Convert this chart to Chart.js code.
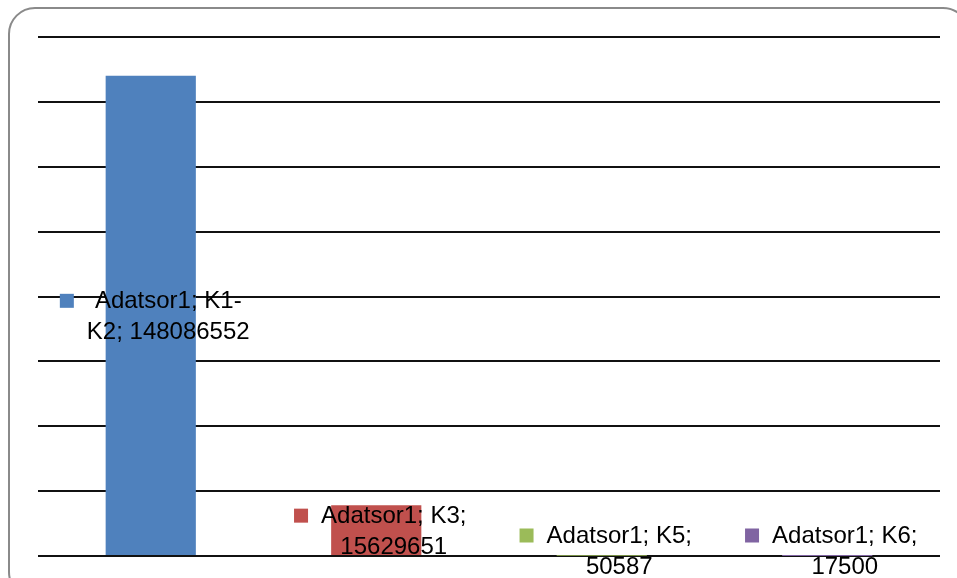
<!DOCTYPE html>
<html>
<head>
<meta charset="utf-8">
<script src="https://cdn.jsdelivr.net/npm/chart.js@4"></script>
<style>
  html, body { margin: 0; padding: 0; background: #fff; }
  #wrap { width: 957px; height: 578px; position: relative; }
</style>
</head>
<body>
<div id="wrap"><canvas id="barChart" width="957" height="578"></canvas></div>
<script>
// Chart data
const seriesName = 'Adatsor1';
const categories = ['K1-K2', 'K3', 'K5', 'K6'];
const values = [148086552, 15629651, 50587, 17500];
const barColors = ['#4F81BD', '#C0504D', '#9BBB59', '#8064A2'];
const yTicks = [0, 20000000, 40000000, 60000000, 80000000, 100000000, 120000000, 140000000, 160000000];

const labelFont = '24px "Liberation Sans", Arial, sans-serif';

// Split a label into lines, breaking after spaces and hyphens
function wrapLabel(ctx, text, maxWidth) {
    const parts = text.split(/(?<=[\s-])/);
    const lines = [];
    let current = '';
    parts.forEach(part => {
        const test = current + part;
        if (current && ctx.measureText(test.trim()).width > maxWidth) {
            lines.push(current.trim());
            current = part;
        } else {
            current = test;
        }
    });
    if (current.trim()) lines.push(current.trim());
    return lines;
}

// Rounded frame around the chart
const framePlugin = {
    id: 'frame',
    beforeDraw(chart) {
        const ctx = chart.ctx;
        ctx.save();
        ctx.strokeStyle = '#8a8a8a';
        ctx.lineWidth = 2;
        ctx.beginPath();
        ctx.roundRect(9, 8, 960, 590, 26);
        ctx.stroke();
        ctx.restore();
    }
};

// Excel-like data labels with legend key
const dataLabelPlugin = {
    id: 'dataLabels',
    afterDatasetsDraw(chart) {
        const ctx = chart.ctx;
        const meta = chart.getDatasetMeta(0);
        const lineHeight = 31;
        const keySize = 14;
        const keyGap = 13;
        ctx.save();
        ctx.font = labelFont;
        ctx.textBaseline = 'middle';
        ctx.textAlign = 'center';
        meta.data.forEach((bar, i) => {
            const text = seriesName + '; ' + categories[i] + '; ' + values[i];
            const lines = wrapLabel(ctx, text, 178);
            const textWidth = Math.max(...lines.map(l => ctx.measureText(l).width));
            const total = keySize + keyGap + textWidth;
            let cy = (bar.y + bar.base) / 2 + 2;
            const blockH = lines.length * lineHeight;
            if (cy + blockH / 2 > chart.height + 5) cy = chart.height + 5 - blockH / 2;
            const left = bar.x + 4 - total / 2;
            const firstY = cy - blockH / 2 + lineHeight / 2;
            ctx.fillStyle = barColors[i];
            ctx.fillRect(left, firstY - keySize / 2 - 1, keySize, keySize);
            ctx.fillStyle = '#000';
            const textCx = left + keySize + keyGap + textWidth / 2;
            lines.forEach((line, j) => {
                ctx.fillText(line, textCx, firstY + j * lineHeight);
            });
        });
        ctx.restore();
    }
};

const ctx = document.getElementById('barChart').getContext('2d');
new Chart(ctx, {
    type: 'bar',
    data: {
        labels: categories,
        datasets: [{
            label: seriesName,
            data: values,
            backgroundColor: barColors,
            borderWidth: 0,
            barPercentage: 0.4,
            categoryPercentage: 1.0
        }]
    },
    options: {
        responsive: false,
        animation: false,
        layout: { padding: { left: 38, right: 17, top: 37, bottom: 22 } },
        plugins: {
            legend: { display: false },
            tooltip: { enabled: false }
        },
        scales: {
            x: { display: false },
            y: {
                min: yTicks[0],
                max: yTicks[yTicks.length - 1],
                afterBuildTicks: scale => { scale.ticks = yTicks.map(v => ({ value: v })); },
                afterFit: scale => { scale.width = 0; },
                ticks: { display: false },
                border: { display: false },
                grid: { color: '#111', lineWidth: 2, drawTicks: false }
            }
        }
    },
    plugins: [framePlugin, dataLabelPlugin]
});
</script>
</body>
</html>
